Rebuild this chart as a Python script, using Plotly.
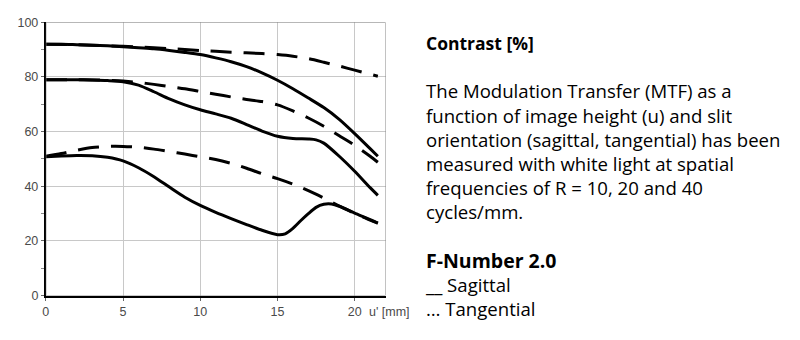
import plotly.graph_objects as go

# MTF curves: contrast [%] versus image height u' [mm]
sag10_u = [0, 1, 2, 3, 4, 5, 6, 7, 8, 9, 10, 11, 12, 13, 14, 15, 16, 17, 18, 19, 20, 21, 21.5]
sag10_c = [92, 92, 91.8, 91.6, 91.4, 91.1, 90.7, 90.3, 89.7, 89, 88.2, 87, 85.6, 83.8, 81.5, 78.8,
           75.7, 72.3, 68.8, 64.5, 59.3, 53.8, 51]

tan10_u = [0, 2, 4, 6, 8, 10, 12, 14, 15, 16, 17, 18, 19, 20, 21, 21.5]
tan10_c = [92, 91.8, 91.4, 91, 90.4, 89.7, 89.1, 88.6, 88.2, 87.6, 86.7, 85.4, 84, 82.5, 81, 80.3]

sag20_u = [0, 2, 3, 4, 5, 6, 7, 8, 9, 10, 11, 12, 13, 14, 15, 16, 17, 17.5, 18, 19, 20, 21, 21.5]
sag20_c = [79, 79, 78.9, 78.7, 78.3, 77, 74.6, 72, 69.8, 68, 66.5, 64.9, 62.6, 60.2, 58.3, 57.5,
           57.3, 57, 55.8, 51, 45.5, 39.5, 36.7]

tan20_u = [0, 2, 4, 5, 6, 7, 8, 9, 10, 11, 12, 13, 14, 15, 16, 17, 18, 19, 20, 21, 21.5]
tan20_c = [79, 79, 78.8, 78.5, 78, 77.3, 76.5, 75.7, 74.7, 73.7, 72.7, 71.8, 71, 69.8, 67.6,
           65, 62, 58.5, 55, 51, 48.8]

sag40_u = [0, 1, 2, 3, 4, 5, 6, 7, 8, 9, 10, 11, 12, 13, 14, 15, 15.5, 16, 16.5, 17, 17.5,
           18, 18.5, 19, 20, 21, 21.5]
sag40_c = [50.8, 51.1, 51.3, 51.2, 50.6, 49.3, 46.8, 43.5, 39.7, 36, 33, 30.5, 28.2, 26, 23.9,
           22.3, 22.6, 24.6, 27.4, 30, 32.3, 33.4, 33.5, 32.7, 30.2, 27.8, 26.5]

tan40_u = [0, 1, 2, 3, 4, 5, 6, 7, 8, 9, 10, 11, 12, 13, 14, 15, 16, 17, 18, 19, 20, 21, 21.5]
tan40_c = [51, 52, 53.2, 54.2, 54.6, 54.6, 54.3, 53.6, 52.7, 51.8, 50.8, 49.8, 48.4, 46.6, 44.6,
           42.8, 40.8, 38.4, 35.7, 32.8, 30.1, 27.6, 26.5]

x_ticks = [0, 5, 10, 15, 20]
y_ticks = [0, 20, 40, 60, 80, 100]
y_minor = [10, 30, 50, 70, 90]

title_text = "Contrast [%]"
body_lines = [
    "The Modulation Transfer (MTF) as a",
    "function of image height (u) and slit",
    "orientation (sagittal, tangential) has been",
    "measured with white light at spatial",
    "frequencies of R = 10, 20 and 40",
    "cycles/mm.",
]
fnum_text = "F-Number 2.0"
legend_lines = ["__ Sagittal", "… Tangential"]

W, H = 800, 340
fig = go.Figure()

dashed = "21px,12px"
series = [
    (sag10_u, sag10_c, "solid"),
    (tan10_u, tan10_c, dashed),
    (sag20_u, sag20_c, "solid"),
    (tan20_u, tan20_c, dashed),
    (sag40_u, sag40_c, "solid"),
    (tan40_u, tan40_c, dashed),
]
for u, c, dash in series:
    fig.add_trace(go.Scatter(
        x=u, y=c, mode="lines",
        line=dict(color="black", width=3, dash=dash, shape="spline", smoothing=0.7),
        showlegend=False, hoverinfo="skip",
    ))

# plot frame: light top/right border
fig.add_shape(type="rect", xref="x", yref="y", x0=0, x1=22, y0=0, y1=100,
              line=dict(color="#8c8c8c", width=1), layer="above")

tick_font = dict(family="Liberation Sans", size=12.5, color="#4a4a4a")
fig.update_xaxes(
    range=[0, 22], domain=[43 / W, 384 / W],
    tickvals=x_ticks, ticktext=[str(v) for v in x_ticks],
    showgrid=True, gridcolor="#c8c8c8", gridwidth=1,
    showline=True, linecolor="black", linewidth=2,
    ticks="outside", ticklen=3, tickcolor="#666",
    tickfont=tick_font, zeroline=False, fixedrange=True,
)
fig.update_yaxes(
    range=[0, 100], domain=[(H - 301) / H, (H - 16) / H],
    tickvals=y_ticks,
    showgrid=True, gridcolor="#c8c8c8", gridwidth=1,
    showline=True, linecolor="black", linewidth=2,
    ticks="outside", ticklen=3, tickcolor="#666",
    minor=dict(tickvals=y_minor, ticks="outside", ticklen=3,
               tickcolor="#888", showgrid=False),
    tickfont=tick_font, zeroline=False, fixedrange=True,
)

fig.add_annotation(xref="paper", yref="paper", x=365 / W, y=(H - 318) / H,
                   text="u' [mm]", showarrow=False, xanchor="left", yanchor="middle",
                   font=tick_font)

# side text block, one line per row with blank separator rows
rows = ([f"<b><span style='font-size:17.5px'>{title_text}</span></b>", ""]
        + body_lines
        + ["", f"<b><span style='font-size:19.5px'>{fnum_text}</span></b>"]
        + legend_lines)
fig.add_annotation(
    xref="paper", yref="paper", x=422 / W, y=(H - 176.5) / H,
    text="<br>".join(rows), showarrow=False, align="left",
    xanchor="left", yanchor="middle",
    font=dict(family="Open Sans", size=18.6, color="black"),
)

fig.update_layout(
    width=W, height=H, margin=dict(l=0, r=0, t=0, b=0),
    paper_bgcolor="white", plot_bgcolor="white",
)

fig.write_html("out.html")
